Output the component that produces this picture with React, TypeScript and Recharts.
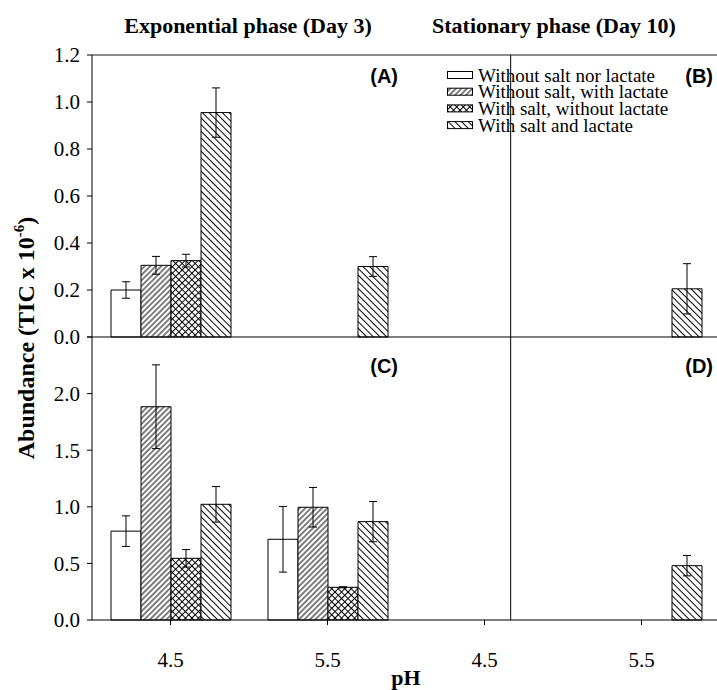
import React from 'react';
import { BarChart, Bar, XAxis, YAxis, ErrorBar, ReferenceLine, Legend } from 'recharts';

// ---- categories ----
const PH = ['4.5', '5.5'];

// ---- series names ----
const SERIES_NAMES = [
  'Without salt nor lactate',
  'Without salt, with lactate',
  'With salt, without lactate',
  'With salt and lactate',
];

// ---- (A) Exponential phase (Day 3), top row ----
const A_none = [0.2, null];
const A_none_err = [0.035, null];
const A_lac = [0.305, null];
const A_lac_err = [0.038, null];
const A_salt = [0.325, null];
const A_salt_err = [0.027, null];
const A_both = [0.955, 0.3];
const A_both_err = [0.105, 0.042];

// ---- (B) Stationary phase (Day 10), top row ----
const B_none = [null, null];
const B_none_err = [null, null];
const B_lac = [null, null];
const B_lac_err = [null, null];
const B_salt = [null, null];
const B_salt_err = [null, null];
const B_both = [null, 0.205];
const B_both_err = [null, 0.107];

// ---- (C) Exponential phase (Day 3), bottom row ----
const C_none = [0.785, 0.713];
const C_none_err = [0.135, 0.29];
const C_lac = [1.884, 0.996];
const C_lac_err = [0.37, 0.175];
const C_salt = [0.545, 0.289];
const C_salt_err = [0.077, 0.005];
const C_both = [1.022, 0.869];
const C_both_err = [0.157, 0.178];

// ---- (D) Stationary phase (Day 10), bottom row ----
const D_none = [null, null];
const D_none_err = [null, null];
const D_lac = [null, null];
const D_lac_err = [null, null];
const D_salt = [null, null];
const D_salt_err = [null, null];
const D_both = [null, 0.48];
const D_both_err = [null, 0.09];

// ---- tick values ----
const TOP_TICKS = [0, 0.2, 0.4, 0.6, 0.8, 1.0, 1.2];
const BOTTOM_TICKS = [0, 0.5, 1.0, 1.5, 2.0, 2.5];

const FILLS = ['#ffffff', 'url(#hatchFwd)', 'url(#hatchCross)', 'url(#hatchBack)'];
const SERIES = SERIES_NAMES.map((name, i) => ({ name, key: `s${i + 1}`, err: `e${i + 1}`, fill: FILLS[i] }));

type Arr = (number | null)[];
function rows(panel: string, vals: Arr[], errs: Arr[]) {
  return PH.map((p, i) => {
    const r: Record<string, any> = { id: `${panel}-${p}`, pH: p };
    vals.forEach((v, k) => {
      r[`s${k + 1}`] = v[i];
      r[`e${k + 1}`] = errs[k][i];
    });
    return r;
  });
}

const topData = [
  ...rows('A', [A_none, A_lac, A_salt, A_both], [A_none_err, A_lac_err, A_salt_err, A_both_err]),
  ...rows('B', [B_none, B_lac, B_salt, B_both], [B_none_err, B_lac_err, B_salt_err, B_both_err]),
];
const bottomData = [
  ...rows('C', [C_none, C_lac, C_salt, C_both], [C_none_err, C_lac_err, C_salt_err, C_both_err]),
  ...rows('D', [D_none, D_lac, D_salt, D_both], [D_none_err, D_lac_err, D_salt_err, D_both_err]),
];

const SERIF = 'Liberation Serif';
const SANS = 'Liberation Sans';

const W = 720;
const H = 690;

const YTick = (props: any) => {
  const { x, y, payload, hideTop } = props;
  const v = payload.value as number;
  if (hideTop && v === hideTop) return <g />;
  return (
    <text x={x} y={y} dy="0.35em" textAnchor="end" fontFamily={SERIF} fontSize={21} fill="#000">
      {v.toFixed(1)}
    </text>
  );
};

const XTick = (props: any) => {
  const { x, y, payload } = props;
  const label = String(payload.value).split('-')[1];
  return (
    <text x={x} y={y} dy="0.71em" textAnchor="middle" fontFamily={SERIF} fontSize={21} fill="#000">
      {label}
    </text>
  );
};

function renderBars() {
  return SERIES.map((s) => (
    <Bar
      key={s.key}
      dataKey={s.key}
      name={s.name}
      fill={s.fill}
      stroke="#000"
      strokeWidth={1}
      isAnimationActive={false}
    >
      <ErrorBar dataKey={s.err} width={4} stroke="#000" strokeWidth={1} direction="y" />
    </Bar>
  ));
}

const ROW = 16.7;
const LegendContent = () => (
  <svg width={240} height={80} style={{ display: 'block' }}>
    {SERIES.map((s, i) => (
      <g key={s.key} transform={`translate(0, ${6 + i * ROW})`}>
        <rect x={0.5} y={4.5} width={25} height={7} fill={s.fill} stroke="#000" strokeWidth={1} />
        <text x={31} y={8} dy="0.35em" fontFamily={SERIF} fontSize={19} fill="#000">
          {s.name}
        </text>
      </g>
    ))}
  </svg>
);

export default function App() {
  return (
    <div style={{ position: 'fixed', left: 0, top: 0, width: 717, height: 690, overflow: 'hidden', background: '#fff' }}>
      <svg width={0} height={0} style={{ position: 'absolute' }}>
        <defs>
          <pattern id="hatchFwd" patternUnits="userSpaceOnUse" width={3.9} height={3.9} patternTransform="rotate(45)">
            <rect width={3.9} height={3.9} fill="#fff" />
            <line x1={1.95} y1={0} x2={1.95} y2={3.9} stroke="#000" strokeWidth={1} />
          </pattern>
          <pattern id="hatchCross" patternUnits="userSpaceOnUse" width={4.6} height={4.6} patternTransform="rotate(45)">
            <rect width={4.6} height={4.6} fill="#fff" />
            <line x1={2.3} y1={0} x2={2.3} y2={4.6} stroke="#000" strokeWidth={1} />
            <line x1={0} y1={2.3} x2={4.6} y2={2.3} stroke="#000" strokeWidth={1} />
          </pattern>
          <pattern id="hatchBack" patternUnits="userSpaceOnUse" width={4.7} height={4.7} patternTransform="rotate(-45)">
            <rect width={4.7} height={4.7} fill="#fff" />
            <line x1={2.35} y1={0} x2={2.35} y2={4.7} stroke="#000" strokeWidth={1} />
          </pattern>
        </defs>
      </svg>

      {/* Top row: (A) and (B) */}
      <div style={{ position: 'absolute', left: 0, top: 0 }}>
        <BarChart
          width={W}
          height={H}
          data={topData}
          margin={{ top: 55, right: 0, bottom: H - 337, left: 0 }}
          barCategoryGap={19}
          barGap={0}
        >
          <XAxis dataKey="id" hide />
          <XAxis xAxisId="n" type="number" domain={[0, 4]} hide />
          <YAxis
            domain={[0, 1.2]}
            ticks={TOP_TICKS}
            width={92}
            tickSize={5}
            tickMargin={7}
            axisLine={{ stroke: '#000' }}
            tickLine={{ stroke: '#000' }}
            tick={<YTick />}
            interval={0}
          />
          <ReferenceLine y={1.2} stroke="#666" strokeWidth={1.5} />
          <ReferenceLine x={2} xAxisId="n" stroke="#000" />
          {renderBars()}
          <Legend
            layout="vertical"
            align="center"
            verticalAlign="middle"
            wrapperStyle={{ left: 447, top: 61, width: 'auto' }}
            content={() => <LegendContent />}
          />
        </BarChart>
      </div>

      {/* Bottom row: (C) and (D) */}
      <div style={{ position: 'absolute', left: 0, top: 0 }}>
        <BarChart
          width={W}
          height={H}
          data={bottomData}
          margin={{ top: 337, right: 0, bottom: 0, left: 0 }}
          barCategoryGap={19}
          barGap={0}
        >
          <XAxis
            dataKey="id"
            height={70}
            tickSize={5}
            tickMargin={27}
            axisLine={{ stroke: '#000' }}
            tickLine={{ stroke: '#000' }}
            tick={<XTick />}
            interval={0}
          />
          <XAxis xAxisId="n" type="number" domain={[0, 4]} hide />
          <YAxis
            domain={[0, 2.5]}
            ticks={BOTTOM_TICKS}
            width={92}
            tickSize={5}
            tickMargin={7}
            axisLine={{ stroke: '#000' }}
            tickLine={{ stroke: '#000' }}
            tick={<YTick hideTop={2.5} />}
            interval={0}
          />
          <ReferenceLine y={2.5} stroke="#000" />
          <ReferenceLine x={2} xAxisId="n" stroke="#000" />
          {renderBars()}
        </BarChart>
      </div>

      {/* Text overlay */}
      <svg width={717} height={690} style={{ position: 'absolute', left: 0, top: 0, pointerEvents: 'none' }}>
        <text x={248} y={33} textAnchor="middle" fontFamily={SERIF} fontWeight="bold" fontSize={22} fill="#000">
          Exponential phase (Day 3)
        </text>
        <text x={432} y={33} textAnchor="start" fontFamily={SERIF} fontWeight="bold" fontSize={22} fill="#000">
          Stationary phase (Day 10)
        </text>
        <text
          transform="translate(34,338) rotate(-90)"
          textAnchor="middle"
          fontFamily={SERIF}
          fontWeight="bold"
          fontSize={24}
          fill="#000"
        >
          Abundance (TIC x 10<tspan fontSize={15} dy={-10}>-6</tspan>
          <tspan dy={10}>)</tspan>
        </text>
        <text x={406} y={685} textAnchor="middle" fontFamily={SERIF} fontWeight="bold" fontSize={22} fill="#000">
          pH
        </text>
        <text x={398} y={83} textAnchor="end" fontFamily={SANS} fontWeight="bold" fontSize={20} fill="#000">(A)</text>
        <text x={713} y={83} textAnchor="end" fontFamily={SANS} fontWeight="bold" fontSize={20} fill="#000">(B)</text>
        <text x={398} y={373} textAnchor="end" fontFamily={SANS} fontWeight="bold" fontSize={20} fill="#000">(C)</text>
        <text x={713} y={373} textAnchor="end" fontFamily={SANS} fontWeight="bold" fontSize={20} fill="#000">(D)</text>
      </svg>
    </div>
  );
}
